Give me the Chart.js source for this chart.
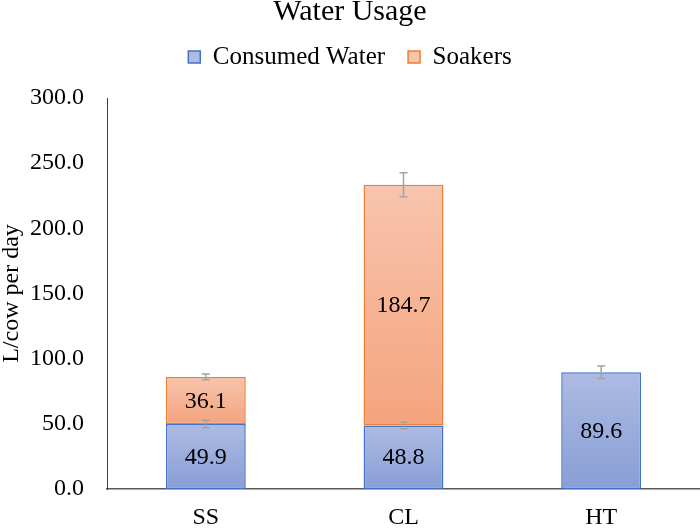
<!DOCTYPE html>
<html>
<head>
<meta charset="utf-8">
<title>Water Usage</title>
<script src="https://cdn.jsdelivr.net/npm/chart.js@4.4.0/dist/chart.umd.min.js"></script>
<style>
  html, body { margin: 0; padding: 0; background: #fff; }
</style>
</head>
<body>
<canvas id="chart" width="700" height="528"></canvas>
<script>
// values
const categories = ['SS', 'CL', 'HT'];
const consumedWater = [49.9, 48.8, 89.6];
const soakers = [36.1, 184.7, null];
const consumedErr = [2.9, 2.5, 4.8];
const soakersErr = [2.2, 9.2, null];
const yTicks = [0, 50, 100, 150, 200, 250, 300];

const serif = "'Liberation Serif', 'Times New Roman', serif";
const LEGEND_PAD = 23;
const LEGEND_TOP = 21.5;   // legend block starts here
const PLOT_TOP = 98;       // top of the plot area

// vertical gradient per bar, lighter on top like the Excel fill
function barFill(topColor, bottomColor, flat, values, baseValues) {
    return (ctx) => {
        if (ctx.type !== 'data') return flat;
        const chart = ctx.chart;
        const y = chart.scales.y;
        const v = values[ctx.dataIndex];
        if (!chart.chartArea || !y || v == null) return flat;
        const base = baseValues ? baseValues[ctx.dataIndex] : 0;
        const g = chart.ctx.createLinearGradient(0, y.getPixelForValue(base + v), 0, y.getPixelForValue(base));
        g.addColorStop(0, topColor);
        g.addColorStop(1, bottomColor);
        return g;
    };
}

const legendBox = {
    id: 'legendBox',
    afterInit(chart) {
        const legend = chart.legend;
        if (!legend) return;
        const fit = legend.fit;
        legend.fit = function () {
            fit.call(this);
            this.height = PLOT_TOP - LEGEND_TOP;
        };
    }
};

const overlay = {
    id: 'overlay',
    afterDatasetsDraw(chart) {
        const { ctx } = chart;
        const y = chart.scales.y;
        const zero = y.getPixelForValue(0);
        ctx.save();

        // values inside the bars
        ctx.font = '24px ' + serif;
        ctx.fillStyle = '#000';
        ctx.textAlign = 'center';
        ctx.textBaseline = 'middle';
        chart.data.datasets.forEach((ds, d) => {
            chart.getDatasetMeta(d).data.forEach((bar, i) => {
                if (ds.data[i] == null) return;
                ctx.fillText(ds.data[i].toFixed(1), bar.x, (bar.y + bar.base) / 2 + 1);
            });
        });

        // error bars
        ctx.strokeStyle = '#a3a3a3';
        ctx.lineWidth = 1.5;
        chart.data.datasets.forEach((ds, d) => {
            chart.getDatasetMeta(d).data.forEach((bar, i) => {
                const e = ds.errors[i];
                if (e == null || ds.data[i] == null) return;
                const h = zero - y.getPixelForValue(e);
                const x = bar.x;
                ctx.beginPath();
                ctx.moveTo(x, bar.y - h);
                ctx.lineTo(x, bar.y + h);
                ctx.moveTo(x - 4, bar.y - h);
                ctx.lineTo(x + 4, bar.y - h);
                ctx.moveTo(x - 4, bar.y + h);
                ctx.lineTo(x + 4, bar.y + h);
                ctx.stroke();
            });
        });
        ctx.restore();
    }
};

const chart = new Chart(document.getElementById('chart'), {
    type: 'bar',
    data: {
        labels: categories,
        datasets: [
            {
                label: 'Consumed Water',
                data: consumedWater,
                errors: consumedErr,
                backgroundColor: barFill('#adbbe3', '#889ed6', '#9db0de', consumedWater, null),
                borderColor: '#4472c4',
                borderWidth: 1.5,
                borderSkipped: false,
                stack: 'a'
            },
            {
                label: 'Soakers',
                data: soakers,
                errors: soakersErr,
                backgroundColor: barFill('#f8c4ad', '#f4a47e', '#f6b392', soakers, consumedWater),
                borderColor: '#ed7d31',
                borderWidth: 1.5,
                borderSkipped: false,
                stack: 'a'
            }
        ]
    },
    options: {
        responsive: false,
        animation: false,
        layout: { padding: 0 },
        datasets: {
            bar: { categoryPercentage: 1, barPercentage: 0.404 }
        },
        plugins: {
            title: {
                display: true,
                text: 'Water Usage',
                color: '#000',
                font: { family: serif, size: 30, weight: 'normal', lineHeight: 1 },
                padding: { top: -3, bottom: LEGEND_TOP - 27 }
            },
            legend: {
                display: true,
                position: 'top',
                labels: {
                    color: '#000',
                    font: { family: serif, size: 25 },
                    boxWidth: 12,
                    boxHeight: 12,
                    padding: LEGEND_PAD
                }
            },
            tooltip: { enabled: false }
        },
        scales: {
            x: {
                stacked: true,
                grid: { display: false, drawTicks: false },
                border: { display: true, color: '#595959', width: 1.5 },
                ticks: {
                    color: '#000',
                    font: { family: serif, size: 24 },
                    padding: 14
                },
                afterFit: (scale) => { scale.height = 39; }
            },
            y: {
                stacked: true,
                min: 0,
                max: 300,
                grid: { display: false, drawTicks: false },
                border: { display: true, color: '#404040', width: 1 },
                afterBuildTicks: (scale) => { scale.ticks = yTicks.map(v => ({ value: v })); },
                ticks: {
                    color: '#000',
                    font: { family: serif, size: 24 },
                    padding: 23,
                    callback: (v) => Number(v).toFixed(1)
                },
                title: {
                    display: true,
                    text: 'L/cow per day',
                    color: '#000',
                    font: { family: serif, size: 24, lineHeight: 1 },
                    padding: { top: 0, bottom: 0 }
                },
                afterFit: (scale) => { scale.width = 107; }
            }
        }
    },
    plugins: [legendBox, overlay]
});
</script>
</body>
</html>
